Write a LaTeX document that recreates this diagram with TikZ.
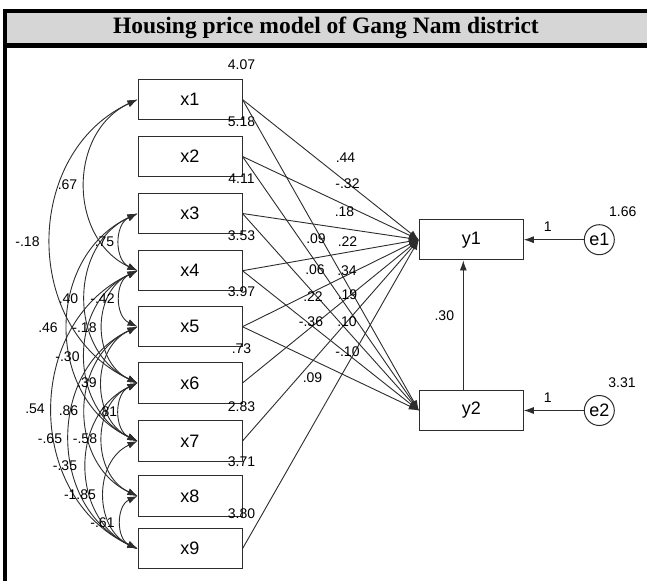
\documentclass[tikz,border=0pt]{standalone}
\usepackage{fontspec}
\setmainfont{Liberation Sans}
\newfontfamily\headfont{Liberation Serif}
\usetikzlibrary{arrows.meta}

\definecolor{bargray}{RGB}{214,214,214}
\definecolor{ink}{RGB}{45,45,45}

\begin{document}
\begin{tikzpicture}[x=1pt,y=-1pt,
  every node/.style={inner sep=0pt, text=black},
  var/.style={draw=ink, line width=1pt, minimum width=104pt, minimum height=40.5pt,
              font=\fontsize{18}{18}\selectfont},
  err/.style={draw=ink, line width=1pt, circle, minimum size=30pt,
              font=\fontsize{18}{18}\selectfont},
  lbl/.style={font=\fontsize{14}{14}\selectfont},
  reg/.style={draw=ink, line width=0.9pt, -{Latex[length=10pt,width=7pt]}},
  cov/.style={draw=ink, line width=0.9pt,
              {Latex[length=10pt,width=7pt]}-{Latex[length=10pt,width=7pt]},
              bend right=65, looseness=1.15},
]
\useasboundingbox (0,0) rectangle (647,581);
\fill[white] (0,0) rectangle (647,581);

% heading bar and frame
\fill[black] (3,9) rectangle (647,13);
\fill[bargray] (7,13) rectangle (647,43);
\fill[black] (3,43) rectangle (647,48);
\fill[black] (3,9) rectangle (7,581);
\node[font=\headfont\bfseries\fontsize{23.5}{23.5}\selectfont] (title) at (326,28)
  {Housing price model of Gang Nam district};

% observed exogenous variables
\foreach \i/\y in {1/99.5, 2/156.5, 3/213.5, 4/270.7, 5/326.7, 6/383, 7/441, 8/496, 9/548.7}
  \node[var] (x\i) at (190,\y) {x\i};

% variances
\foreach \i/\v in {1/4.07, 2/5.18, 3/4.11, 4/3.53, 5/3.97, 6/.73, 7/2.83, 8/3.71, 9/3.80}
  \node[lbl] (vx\i) at ([xshift=-1pt,yshift=14pt]x\i.north east) {\v};

% endogenous variables and errors
\node[var] (y1) at (471.3,239.7) {y1};
\node[var] (y2) at (471.3,410.5) {y2};
\node[err] (e1) at (599.3,239.7) {e1};
\node[err] (e2) at (599.3,410.5) {e2};
\node[lbl] (ve1) at (622.7,211.7) {1.66};
\node[lbl] (ve2) at (622,382.7) {3.31};

\draw[reg] (e1) -- node[lbl, pos=0.6, above=8pt] (w1) {1} (y1);
\draw[reg] (e2) -- node[lbl, pos=0.6, above=8pt] (w2) {1} (y2);
\draw[reg] ([xshift=-8pt]y2.north) -- ([xshift=-8pt]y1.south);
\node[lbl] (b21) at (444.3,316) {.30};

% regression paths
\foreach \i in {1,2,3,4,5,6,7,9}
  \draw[reg] (x\i.east) -- (y1.west);
\foreach \i in {1,2,3,4,5}
  \draw[reg] (x\i.east) -- (y2.west);

% path coefficients
\node[lbl] (p1) at (345.5,158) {.44};
\node[lbl] (p2) at (347.5,184) {-.32};
\node[lbl] (p3) at (344.5,212) {.18};
\node[lbl] (p4) at (316,238.5) {.09};
\node[lbl] (p5) at (347.5,242) {.22};
\node[lbl] (p6) at (315,270) {.06};
\node[lbl] (p7) at (347,270.5) {.34};
\node[lbl] (p8) at (313,296.5) {.22};
\node[lbl] (p9) at (347.5,294.5) {.19};
\node[lbl] (p10) at (311,321.5) {-.36};
\node[lbl] (p11) at (347,321.5) {.10};
\node[lbl] (p12) at (347.5,351.5) {-.10};
\node[lbl] (p13) at (312.5,377.5) {.09};

% covariances between exogenous variables
\foreach \a/\b in {1/4, 1/6, 3/4, 3/6, 4/5, 3/7, 4/6, 4/7, 5/7, 4/9, 5/8, 6/7,
                   5/9, 6/8, 6/9, 7/9, 8/9}
  \draw[cov] (x\a.west) to (x\b.west);

% covariance estimates
\foreach \n/\x/\y/\t in {14/67.5/185/.67, 16/27.5/242/-.18, 34/104.5/242/.75,
                         36/68.5/298.5/.40, 45/102.5/298.5/-.42, 37/48/327.5/.46,
                         46/84.5/327.5/-.18, 47/67.5/356.5/-.30, 57/87/383/.39,
                         49/35/409/.54, 58/68.5/411/.86, 67/107.5/412/.81,
                         59/50/439/-.65, 68/85/439/-.58, 69/65/466/-.35,
                         79/80/495/-1.85, 89/102.5/522.5/-.61}
  \node[lbl] (c\n) at (\x,\y) {\t};
\end{tikzpicture}
\end{document}
